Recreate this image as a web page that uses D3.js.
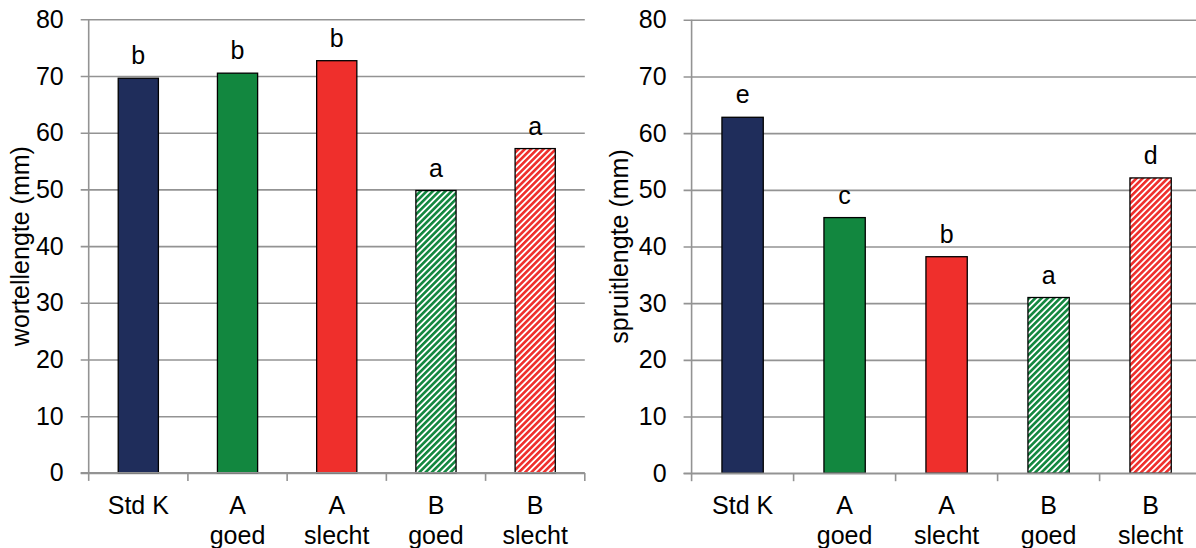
<!DOCTYPE html>
<html>
<head>
<meta charset="utf-8">
<script src="https://cdn.jsdelivr.net/npm/d3@7"></script>
<style>
  html, body { margin: 0; padding: 0; background: #fff; }
  svg { display: block; font-family: "Liberation Sans", Arial, sans-serif; }
</style>
</head>
<body>
<svg id="viz" width="1196" height="548"></svg>
<script>
// data
const categories = [["Std K"], ["A", "goed"], ["A", "slecht"], ["B", "goed"], ["B", "slecht"]];
const wortellengte = [69.6, 70.5, 72.7, 49.8, 57.2];
const wortelLetters = ["b", "b", "b", "a", "a"];
const spruitlengte = [62.8, 45.1, 38.2, 31.0, 52.1];
const spruitLetters = ["e", "c", "b", "a", "d"];
const yTicks = [0, 10, 20, 30, 40, 50, 60, 70, 80];

const svg = d3.select("#viz");

// fills: solid navy, green, red, hatched green, hatched red
const defs = svg.append("defs");
const hatch = (id, color) => {
    const p = defs.append("pattern")
        .attr("id", id)
        .attr("patternUnits", "userSpaceOnUse")
        .attr("width", 4.4).attr("height", 4.4)
        .attr("patternTransform", "rotate(45)");
    p.append("rect").attr("width", 4.4).attr("height", 4.4).attr("fill", "#fff");
    p.append("rect").attr("width", 2.6).attr("height", 4.4).attr("fill", color);
};
hatch("hatchGreen", "#12873f");
hatch("hatchRed", "#ef2f2c");
const fills = ["#1f2d5b", "#12873f", "#ef2f2c", "url(#hatchGreen)", "url(#hatchRed)"];

const drawChart = (opts) => {
    const {x0, x1, yTop, yBottom, values, letters, title, titleX} = opts;

    const x = d3.scaleBand()
        .domain(d3.range(categories.length))
        .range([x0, x1])
        .paddingInner(0.595)
        .paddingOuter(0.2975);

    const y = d3.scaleLinear()
        .domain([0, 80])
        .range([yBottom, yTop]);

    const g = svg.append("g");

    // gridlines + y ticks
    g.append("g")
        .attr("transform", `translate(${x0},0)`)
        .call(d3.axisLeft(y).tickValues(yTicks).tickSize(-(x1 - x0)).tickPadding(25))
        .call(a => a.select(".domain").remove())
        .call(a => a.selectAll(".tick line")
            .attr("x1", -8)
            .attr("stroke", "#939393")
            .attr("stroke-width", 1.6))
        .call(a => a.selectAll(".tick text")
            .attr("x", -25)
            .attr("font-size", 25)
            .attr("font-family", "Liberation Sans, Arial, sans-serif")
            .attr("fill", "#000"));

    // bars
    g.append("g")
        .selectAll("rect")
        .data(values)
        .join("rect")
        .attr("x", (d, i) => x(i))
        .attr("y", d => y(d))
        .attr("width", x.bandwidth())
        .attr("height", d => y(0) - y(d))
        .attr("fill", (d, i) => fills[i])
        .attr("stroke", "#000")
        .attr("stroke-width", 1.3);

    // significance letters
    g.append("g")
        .selectAll("text")
        .data(values)
        .join("text")
        .attr("x", (d, i) => x(i) + x.bandwidth() / 2)
        .attr("y", d => y(d) - 14)
        .attr("text-anchor", "middle")
        .attr("font-size", 25)
        .text((d, i) => letters[i]);

    // y axis line
    g.append("line")
        .attr("x1", x0).attr("x2", x0)
        .attr("y1", yTop).attr("y2", yBottom)
        .attr("stroke", "#939393").attr("stroke-width", 1.6);

    // x axis line + ticks at band boundaries
    const step = x.step();
    g.append("line")
        .attr("x1", x0 - 8).attr("x2", x1)
        .attr("y1", yBottom).attr("y2", yBottom)
        .attr("stroke", "#939393").attr("stroke-width", 1.6);
    g.append("g")
        .selectAll("line")
        .data(d3.range(categories.length + 1))
        .join("line")
        .attr("x1", i => x0 + i * step).attr("x2", i => x0 + i * step)
        .attr("y1", yBottom).attr("y2", yBottom + 8)
        .attr("stroke", "#939393").attr("stroke-width", 1.6);

    // category labels
    const lab = g.append("g")
        .selectAll("text")
        .data(categories)
        .join("text")
        .attr("text-anchor", "middle")
        .attr("font-size", 25);
    lab.selectAll("tspan")
        .data((d, i) => d.map(t => ({t, i})))
        .join("tspan")
        .attr("x", d => x(d.i) + x.bandwidth() / 2)
        .attr("y", (d, j) => yBottom + 41 + j * 30)
        .text(d => d.t);

    // y title
    g.append("text")
        .attr("transform", `translate(${titleX},${(yTop + yBottom) / 2}) rotate(-90)`)
        .attr("text-anchor", "middle")
        .attr("font-size", 25)
        .text(title);
};

drawChart({
    x0: 88.7, x1: 584.8, yTop: 19.3, yBottom: 472.9,
    values: wortellengte, letters: wortelLetters,
    title: "wortellengte (mm)", titleX: 29
});

drawChart({
    x0: 691.6, x1: 1201.6, yTop: 19.8, yBottom: 473.2,
    values: spruitlengte, letters: spruitLetters,
    title: "spruitlengte (mm)", titleX: 628
});
</script>
</body>
</html>
